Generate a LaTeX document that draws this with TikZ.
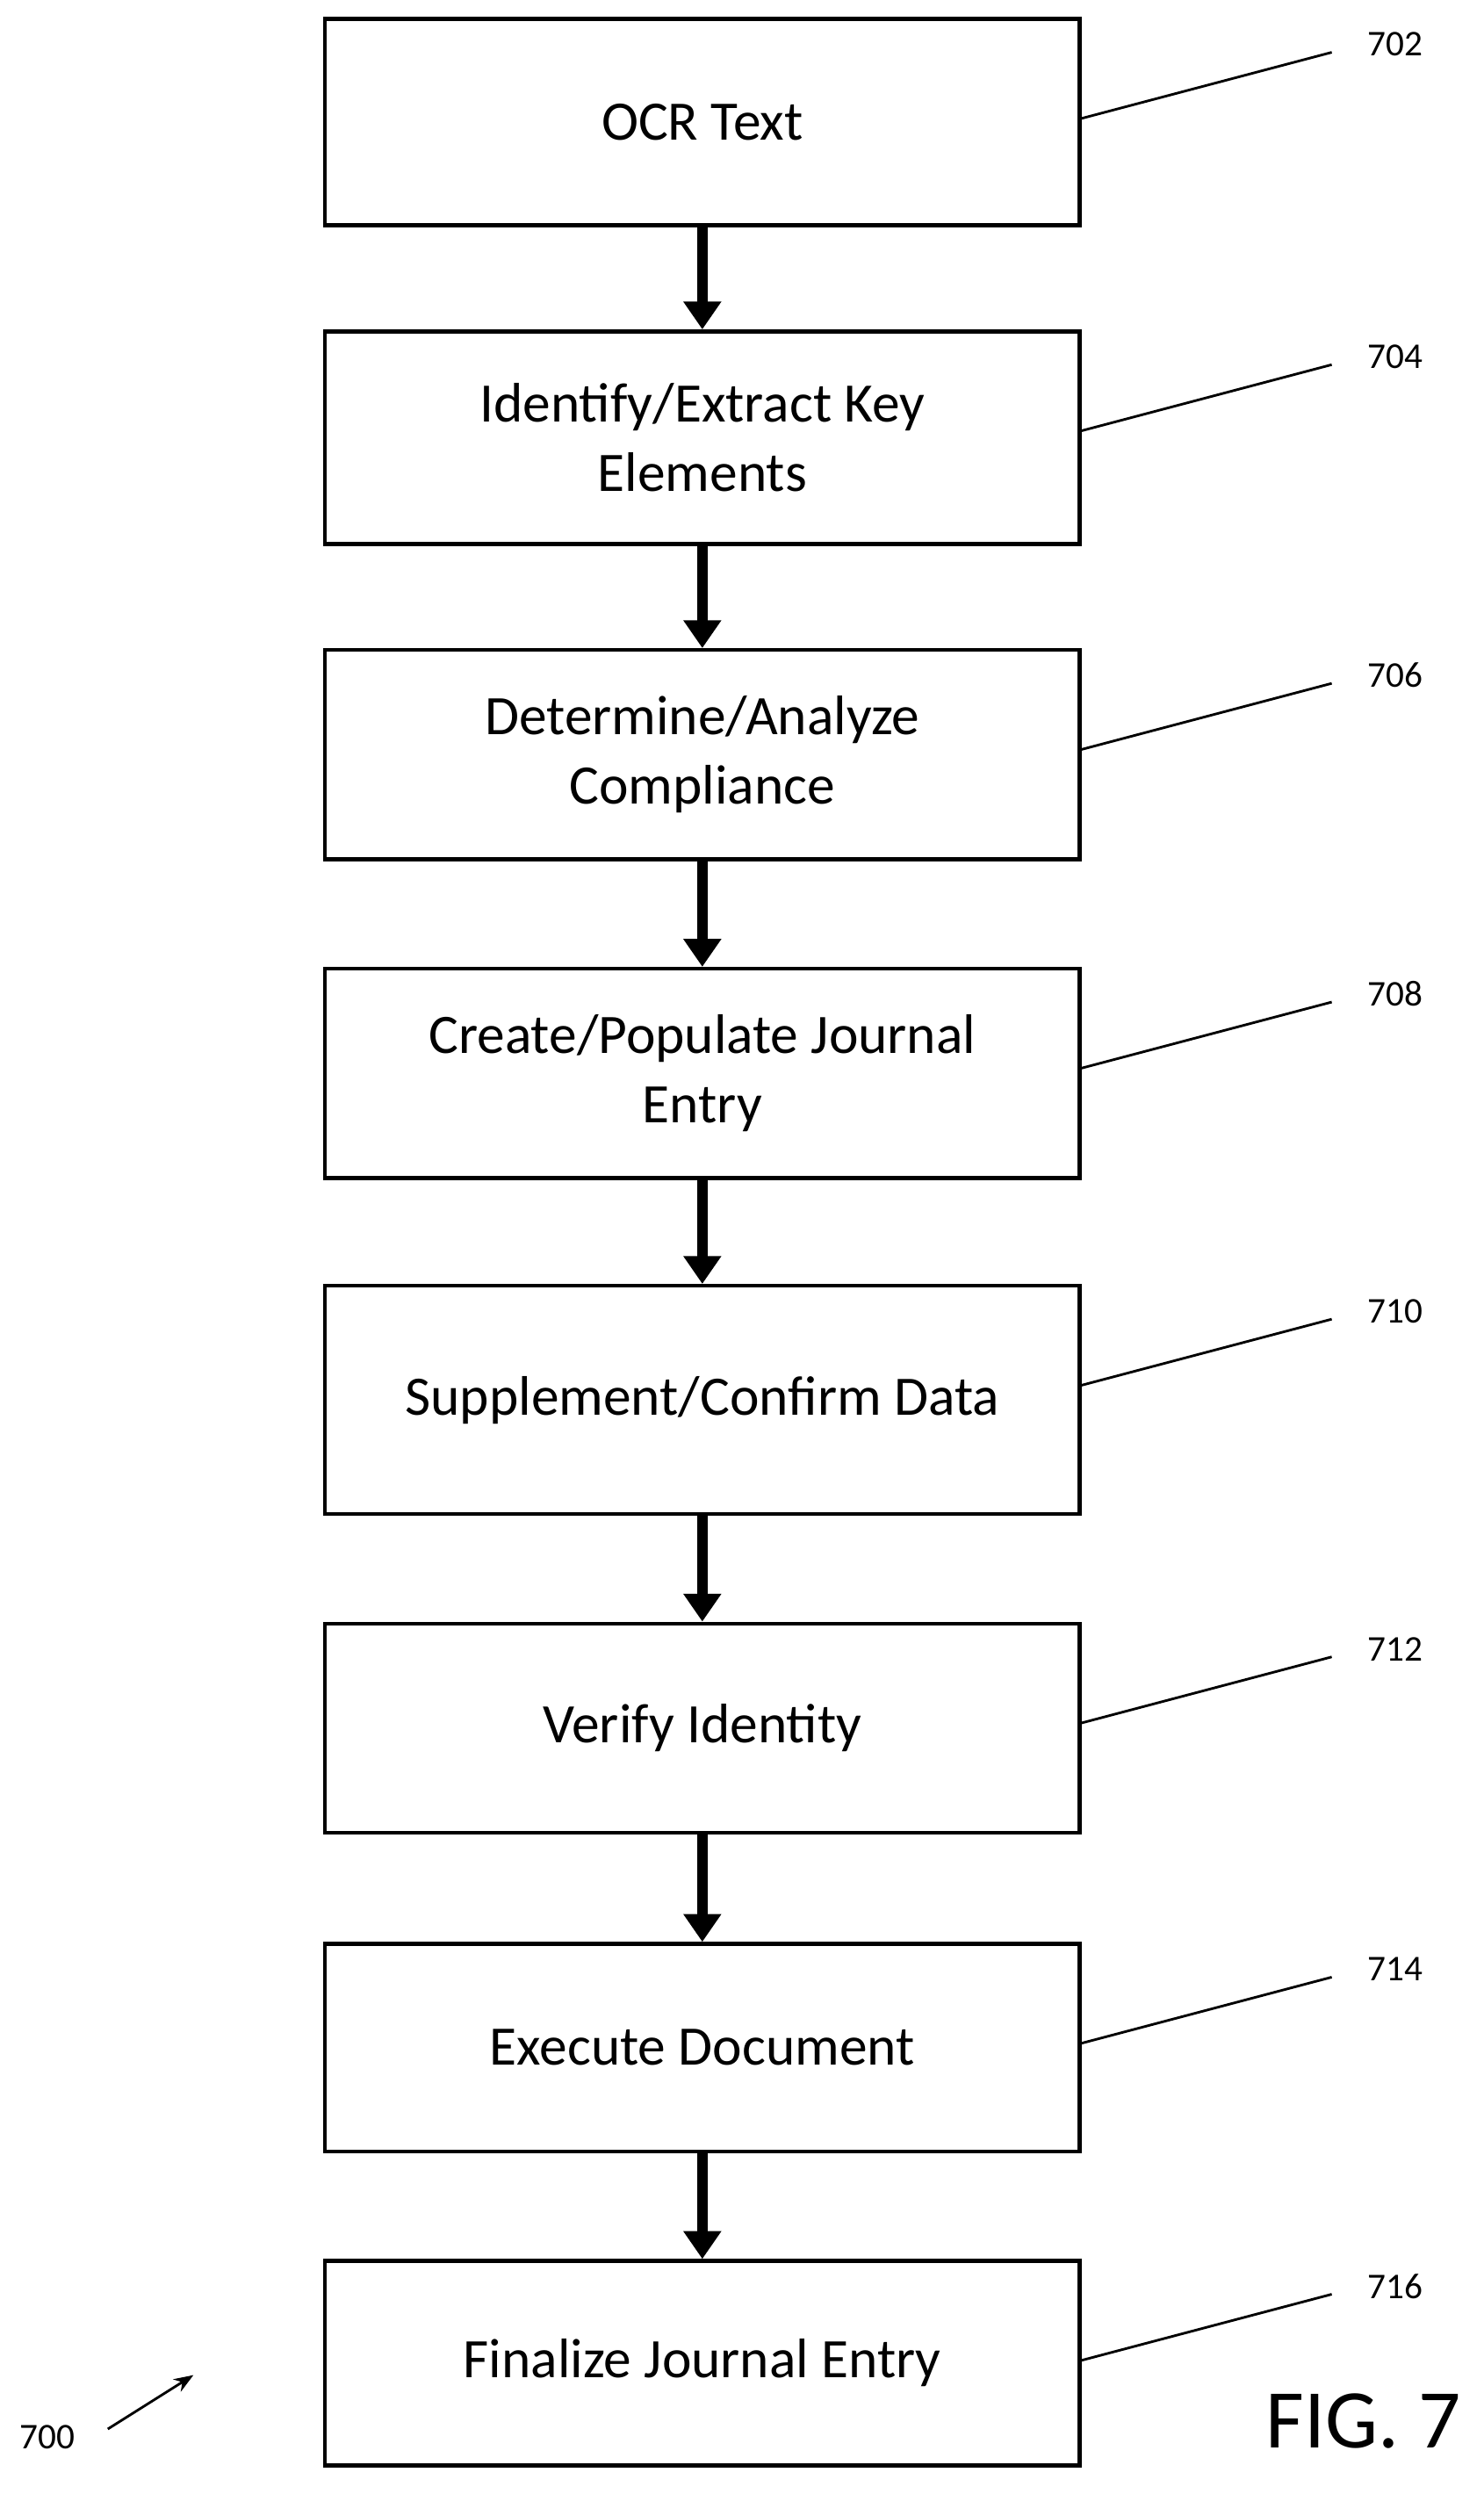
\documentclass[tikz,border=0pt]{standalone}
\usepackage{fontspec}
\setmainfont{Carlito}
\usetikzlibrary{arrows.meta}

\begin{document}
\begin{tikzpicture}[
	x=0.02cm, y=-0.02cm,
	stage/.style={draw, line width=1.4pt, minimum width=9.52cm, align=center,
		font=\fontsize{20}{25}\selectfont, inner sep=0pt},
	flow/.style={line width=3.6pt, -{Triangle[length=10pt, width=13pt]}},
	lead/.style={line width=0.9pt},
	refnum/.style={font=\fontsize{13}{15}\selectfont}]
\useasboundingbox (0,0) rectangle (936,1573);
% stages: name / top / bottom / text / reference
\foreach \nm/\ya/\yb/\txt/\rf in {
	a/12/142/{OCR Text}/702,
	b/209/343/{Identify/Extract Key\\Elements}/704,
	c/410/542/{Determine/Analyze\\Compliance}/706,
	d/611/743/{Create/Populate Journal\\Entry}/708,
	e/811/955/{Supplement/Confirm Data}/710,
	f/1024/1156/{Verify Identity}/712,
	g/1226/1357/{Execute Document}/714,
	h/1426/1555/{Finalize Journal Entry}/716}{
	\pgfmathsetmacro{\bh}{(\yb-\ya)*0.02}
	\node[stage, minimum height=\bh cm] (\nm) at (443,{(\ya+\yb)/2}) {\txt};
	\coordinate (\nm s) at (681,\ya+63);
	\coordinate (\nm r) at (840,\ya+21);
	\draw[lead] (\nm s) -- (\nm r);
	\node[refnum] (\nm l) at (880,\ya+16) {\rf};
}
\foreach \u/\v in {a/b,b/c,c/d,d/e,e/f,f/g,g/h}
	\draw[flow] (\u) -- (\v);
% figure label
\node[font=\fontsize{30}{34}\selectfont] (fig) at (860,1527) {FIG. 7};
\node[refnum] (num) at (30,1537) {700};
\coordinate (tip) at (122,1498);
\draw[lead, -{Stealth[length=7pt]}] (68,1532) -- (tip);
\end{tikzpicture}
\end{document}
